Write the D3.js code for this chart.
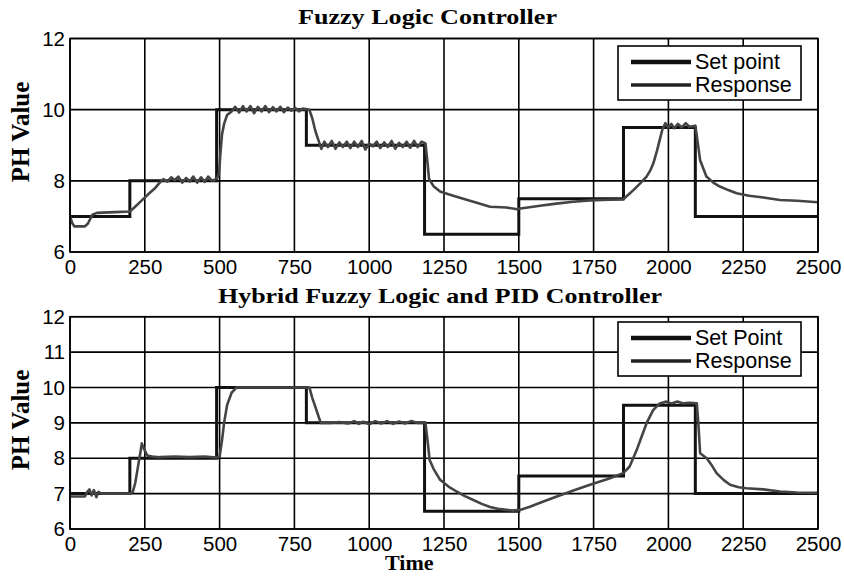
<!DOCTYPE html>
<html>
<head>
<meta charset="utf-8">
<script src="https://cdn.jsdelivr.net/npm/d3@7"></script>
<style>
  body { margin: 0; background: #fff; }
  svg { display: block; }
</style>
</head>
<body>
<div id="chart"></div>
<script>
// ---- data ----
var xTicks = [0, 250, 500, 750, 1000, 1250, 1500, 1750, 2000, 2250, 2500];
var topYTicks = [6, 8, 10, 12];
var bottomYTicks = [6, 7, 8, 9, 10, 11, 12];

var stepTimes = [0, 200, 490, 790, 1185, 1500, 1850, 2090, 2500];
var fuzzySetpoint = [7, 8, 10, 9, 6.5, 7.5, 9.5, 7, 7];
var hybridSetpoint = [7, 8, 10, 9, 6.5, 7.5, 9.5, 7, 7];

var fuzzyResponse = [
  [0,7.0],[8,6.8],[15,6.72],[50,6.72],[60,6.8],[75,7.05],[90,7.1],[150,7.12],[200,7.14],
  [215,7.25],[240,7.45],[265,7.65],[285,7.8],[300,7.95],[312,8.05],[325,7.98],[338,8.1],
  [350,8.02],[362,8.12],[375,7.95],[388,8.08],[400,7.98],[412,8.12],[425,7.95],[438,8.1],
  [450,7.97],[462,8.12],[475,8.0],[490,8.05],[498,8.2],[503,8.8],[508,9.3],[515,9.6],
  [525,9.85],[540,9.95],[552,10.08],[565,9.92],[578,10.1],[590,9.95],[603,10.1],[615,9.9],
  [628,10.08],[640,9.95],[653,10.1],[665,9.93],[678,10.07],[690,9.95],[703,10.08],[715,9.93],
  [728,10.06],[740,9.97],[753,10.05],[765,9.95],[778,10.03],[800,10.0],[810,9.75],[820,9.4],
  [830,9.15],[840,8.9],[850,9.1],[862,8.95],[875,9.12],[887,8.9],[900,9.08],[912,8.95],
  [925,9.1],[937,8.92],[950,9.1],[962,8.95],[975,9.12],[987,8.88],[1000,9.05],[1012,8.97],
  [1025,9.1],[1037,8.92],[1050,9.08],[1062,8.95],[1075,9.12],[1087,8.9],[1100,9.07],
  [1112,8.95],[1125,9.1],[1137,8.93],[1150,9.12],[1162,8.95],[1175,9.1],[1188,9.05],
  [1195,8.5],[1200,8.05],[1215,7.85],[1237,7.7],[1265,7.62],[1292,7.55],[1320,7.48],
  [1348,7.41],[1376,7.34],[1404,7.27],[1459,7.25],[1495,7.2],[1505,7.22],[1530,7.25],
  [1571,7.3],[1625,7.36],[1682,7.41],[1738,7.45],[1800,7.47],[1849,7.48],[1865,7.6],
  [1883,7.74],[1905,7.92],[1927,8.12],[1940,8.3],[1950,8.5],[1962,8.85],[1971,9.15],
  [1980,9.45],[1990,9.62],[2000,9.5],[2010,9.6],[2020,9.48],[2032,9.6],[2045,9.5],
  [2058,9.62],[2070,9.52],[2090,9.55],[2096,9.2],[2106,8.58],[2127,8.12],[2150,7.95],
  [2172,7.84],[2200,7.74],[2228,7.65],[2270,7.58],[2317,7.53],[2373,7.46],[2430,7.44],
  [2500,7.4]
];

var hybridResponse = [
  [0,6.92],[50,6.92],[58,7.05],[65,7.12],[72,6.95],[80,7.1],[88,6.9],[95,7.05],[105,7.0],
  [200,7.0],[210,7.05],[218,7.3],[226,7.7],[234,8.1],[240,8.42],[248,8.25],[258,8.08],
  [275,8.05],[300,8.03],[350,8.05],[400,8.03],[450,8.05],[490,8.02],[500,8.05],[508,8.5],
  [515,9.0],[525,9.5],[540,9.85],[557,10.0],[800,10.0],[810,9.7],[820,9.45],[830,9.2],
  [838,9.0],[870,9.0],[900,9.02],[930,8.98],[950,9.05],[965,8.97],[980,9.03],[1000,8.96],
  [1020,9.05],[1040,8.98],[1060,9.05],[1080,8.97],[1100,9.04],[1120,8.98],[1140,9.05],
  [1160,9.0],[1188,9.0],[1195,8.5],[1202,7.95],[1215,7.7],[1237,7.39],[1265,7.2],
  [1292,7.06],[1320,6.93],[1348,6.82],[1376,6.71],[1404,6.62],[1430,6.57],[1459,6.54],
  [1480,6.52],[1504,6.54],[1537,6.63],[1580,6.77],[1627,6.92],[1680,7.08],[1738,7.25],
  [1800,7.42],[1849,7.58],[1870,7.76],[1894,8.23],[1910,8.6],[1927,8.99],[1949,9.36],
  [1971,9.55],[1993,9.6],[2010,9.55],[2030,9.6],[2050,9.55],[2070,9.57],[2095,9.55],
  [2100,9.0],[2106,8.14],[2128,8.0],[2145,7.8],[2161,7.58],[2185,7.38],[2206,7.25],
  [2235,7.18],[2261,7.15],[2317,7.12],[2373,7.06],[2430,7.03],[2500,7.02]
];

// ---- drawing ----
var width = 844, height = 577;
var left = 70, right = 818;

var svg = d3.select('#chart').append('svg')
  .attr('width', width)
  .attr('height', height);

function drawPanel(opt) {
  var x = d3.scaleLinear().domain([0, 2500]).range([left, right]);
  var y = d3.scaleLinear().domain([6, 12]).range([opt.bottom, opt.top]);

  var g = svg.append('g');

  g.append('clipPath').attr('id', opt.id)
    .append('rect')
    .attr('x', left).attr('y', opt.top)
    .attr('width', right - left).attr('height', opt.bottom - opt.top);

  // grid
  g.append('g').selectAll('line.gx')
    .data(xTicks)
    .enter().append('line')
    .attr('x1', function (d) { return x(d); })
    .attr('x2', function (d) { return x(d); })
    .attr('y1', opt.top).attr('y2', opt.bottom)
    .attr('stroke', '#000').attr('stroke-width', 1.6);

  g.append('g').selectAll('line.gy')
    .data(opt.yTicks)
    .enter().append('line')
    .attr('x1', left).attr('x2', right)
    .attr('y1', function (d) { return y(d); })
    .attr('y2', function (d) { return y(d); })
    .attr('stroke', '#000').attr('stroke-width', 1.6);

  // tick labels
  var xAxis = d3.axisBottom(x).tickValues(xTicks).tickFormat(d3.format('d'))
    .tickSize(0).tickPadding(7);
  var ax = g.append('g')
    .attr('transform', 'translate(0,' + opt.bottom + ')')
    .call(xAxis);
  ax.select('.domain').remove();
  ax.selectAll('text')
    .attr('font-family', 'Liberation Sans, Arial, sans-serif')
    .attr('font-size', 20.5)
    .attr('fill', '#000');

  var yAxis = d3.axisLeft(y).tickValues(opt.yTicks).tickFormat(d3.format('d'))
    .tickSize(0).tickPadding(5);
  var ay = g.append('g')
    .attr('transform', 'translate(' + left + ',0)')
    .call(yAxis);
  ay.select('.domain').remove();
  ay.selectAll('text')
    .attr('font-family', 'Liberation Sans, Arial, sans-serif')
    .attr('font-size', 20.5)
    .attr('fill', '#000');

  // series
  var plot = g.append('g').attr('clip-path', 'url(#' + opt.id + ')');

  var stepLine = d3.line()
    .x(function (d) { return x(d[0]); })
    .y(function (d) { return y(d[1]); })
    .curve(d3.curveStepAfter);

  var stepData = stepTimes.map(function (t, i) { return [t, opt.setpoint[i]]; });

  plot.append('path')
    .datum(stepData)
    .attr('d', stepLine)
    .attr('fill', 'none')
    .attr('stroke', '#111')
    .attr('stroke-width', 3);

  var respLine = d3.line()
    .x(function (d) { return x(d[0]); })
    .y(function (d) { return y(d[1]); });

  plot.append('path')
    .datum(opt.response)
    .attr('d', respLine)
    .attr('fill', 'none')
    .attr('stroke', '#444')
    .attr('stroke-width', 2.6)
    .attr('stroke-linejoin', 'round');

  // frame
  g.append('rect')
    .attr('x', left).attr('y', opt.top)
    .attr('width', right - left).attr('height', opt.bottom - opt.top)
    .attr('fill', 'none')
    .attr('stroke', '#000').attr('stroke-width', 1.6);

  // title
  g.append('text')
    .attr('x', opt.titleX).attr('y', opt.titleY)
    .attr('font-family', 'Liberation Serif, Times New Roman, serif')
    .attr('font-weight', 'bold')
    .attr('font-size', 22)
    .attr('textLength', opt.titleW)
    .attr('lengthAdjust', 'spacingAndGlyphs')
    .text(opt.title);

  // y label
  g.append('text')
    .attr('transform', 'translate(29,' + opt.labelY + ') rotate(-90)')
    .attr('text-anchor', 'middle')
    .attr('font-family', 'Liberation Serif, Times New Roman, serif')
    .attr('font-weight', 'bold')
    .attr('font-size', 25)
    .text('PH Value');

  // legend
  var lg = g.append('g');
  lg.append('rect')
    .attr('x', 618).attr('y', opt.legendTop)
    .attr('width', 183).attr('height', 54)
    .attr('fill', '#fff')
    .attr('stroke', '#000').attr('stroke-width', 1.6);

  var items = [
    { label: opt.setLabel, w: 4.5, c: '#111' },
    { label: 'Response', w: 3.5, c: '#222' }
  ];
  items.forEach(function (it, i) {
    var cy = opt.legendTop + 16 + i * 23;
    lg.append('line')
      .attr('x1', 631).attr('x2', 691)
      .attr('y1', cy).attr('y2', cy)
      .attr('stroke', it.c).attr('stroke-width', it.w);
    lg.append('text')
      .attr('x', 695).attr('y', cy + 7)
      .attr('font-family', 'Liberation Sans, Arial, sans-serif')
      .attr('font-size', 21.5)
      .text(it.label);
  });
}

drawPanel({
  id: 'clipTop', top: 38.5, bottom: 252, yTicks: topYTicks,
  setpoint: fuzzySetpoint, response: fuzzyResponse,
  title: 'Fuzzy Logic Controller', titleX: 298, titleY: 24, titleW: 259,
  labelY: 132, legendTop: 46, setLabel: 'Set point'
});

drawPanel({
  id: 'clipBottom', top: 316.7, bottom: 529, yTicks: bottomYTicks,
  setpoint: hybridSetpoint, response: hybridResponse,
  title: 'Hybrid Fuzzy Logic and PID Controller', titleX: 218, titleY: 303, titleW: 444,
  labelY: 420, legendTop: 322, setLabel: 'Set Point'
});

svg.append('text')
  .attr('x', 385).attr('y', 570)
  .attr('font-family', 'Liberation Serif, Times New Roman, serif')
  .attr('font-weight', 'bold')
  .attr('font-size', 22)
  .text('Time');
</script>
</body>
</html>
